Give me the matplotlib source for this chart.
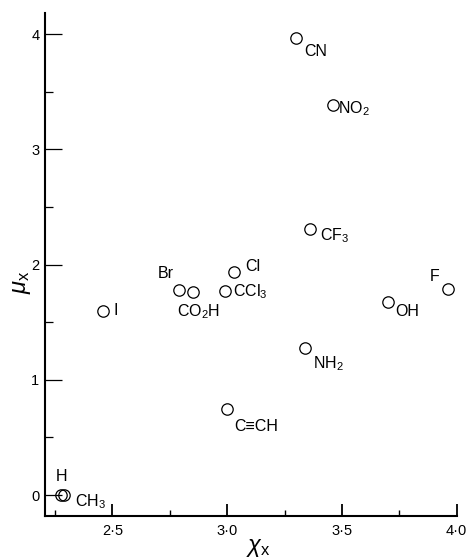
import matplotlib
matplotlib.use("Agg")
import matplotlib.pyplot as plt
from matplotlib.ticker import MultipleLocator, FuncFormatter

plt.rcParams['font.family'] = ['Liberation Sans', 'DejaVu Sans']
plt.rcParams['mathtext.fontset'] = 'custom'
plt.rcParams['mathtext.rm'] = 'Liberation Sans'
plt.rcParams['mathtext.it'] = 'Liberation Sans:italic'
plt.rcParams['mathtext.default'] = 'rm'

# grupos X: electronegatividad (chi) y momento dipolar (mu)
grupos = ['CN', 'NO$_2$', 'CF$_3$', 'F', 'OH', 'I', 'Br', 'CO$_2$H', 'Cl',
          'CCl$_3$', 'NH$_2$', 'C≡CH', 'H', 'CH$_3$']
chi = [3.30, 3.46, 3.36, 3.96, 3.70, 2.46, 2.79, 2.85, 3.03,
       2.99, 3.34, 3.00, 2.275, 2.29]
mu = [3.97, 3.39, 2.31, 1.79, 1.68, 1.60, 1.78, 1.76, 1.94,
      1.77, 1.28, 0.75, 0.0, 0.0]

# desplazamiento de cada etiqueta (px) y alineacion
offsets = {
    'CN': (8, -18, 'left'), 'NO$_2$': (5, -9, 'left'), 'CF$_3$': (10, -11, 'left'),
    'F': (-8, 8, 'right'), 'OH': (7, -14, 'left'), 'I': (10, -4, 'left'),
    'Br': (-5, 12, 'right'), 'CO$_2$H': (-16, -24, 'left'), 'Cl': (11, 1, 'left'),
    'CCl$_3$': (8, -5, 'left'), 'NH$_2$': (8, -21, 'left'), 'C≡CH': (7, -22, 'left'),
    'H': (1, 14, 'center'), 'CH$_3$': (11, -11, 'left'),
}

fig = plt.figure(figsize=(4.71, 5.6), dpi=100)
ax = fig.add_axes([45 / 471, 44 / 560, 411.7 / 471, 503 / 560])

ax.plot(chi, mu, 'o', markersize=8.2, markerfacecolor='none',
        markeredgecolor='black', markeredgewidth=0.9, clip_on=False)

for g, x, y in zip(grupos, chi, mu):
    dx, dy, ha = offsets[g]
    ax.annotate(g, (x, y), xytext=(dx, dy), textcoords='offset pixels',
                ha=ha, va='baseline', fontsize=11.5)

ax.set_xlim(2.206, 4.0)
ax.set_ylim(-0.182, 4.185)

for s in ['top', 'right']:
    ax.spines[s].set_visible(False)
for s in ['left', 'bottom']:
    ax.spines[s].set_linewidth(1.5)

ax.xaxis.set_major_locator(MultipleLocator(0.5))
ax.xaxis.set_minor_locator(MultipleLocator(0.25))
ax.yaxis.set_major_locator(MultipleLocator(1))
ax.yaxis.set_minor_locator(MultipleLocator(0.5))
ax.xaxis.set_major_formatter(FuncFormatter(lambda v, p: ('%.1f' % v).replace('.', '·')))
ax.yaxis.set_major_formatter(FuncFormatter(lambda v, p: '%d' % round(v)))

ax.tick_params(axis='x', which='major', direction='in', length=8.6, width=1.3, pad=6, labelsize=10.5)
ax.tick_params(axis='x', which='minor', direction='in', length=4.5, width=1.0)
ax.tick_params(axis='y', which='major', direction='in', length=12, width=0.9, pad=4, labelsize=10.5)
ax.tick_params(axis='y', which='minor', direction='in', length=6, width=0.9)

fig.text(258 / 471, 1 - 548 / 560, r'$\mathit{\chi}_x$', fontsize=17, ha='center', va='center')
fig.text(22 / 471, 1 - 282 / 560, r'$\mathit{\mu}_x$', fontsize=17, ha='center', va='center', rotation=90)

fig.savefig('out.png', dpi=100)
